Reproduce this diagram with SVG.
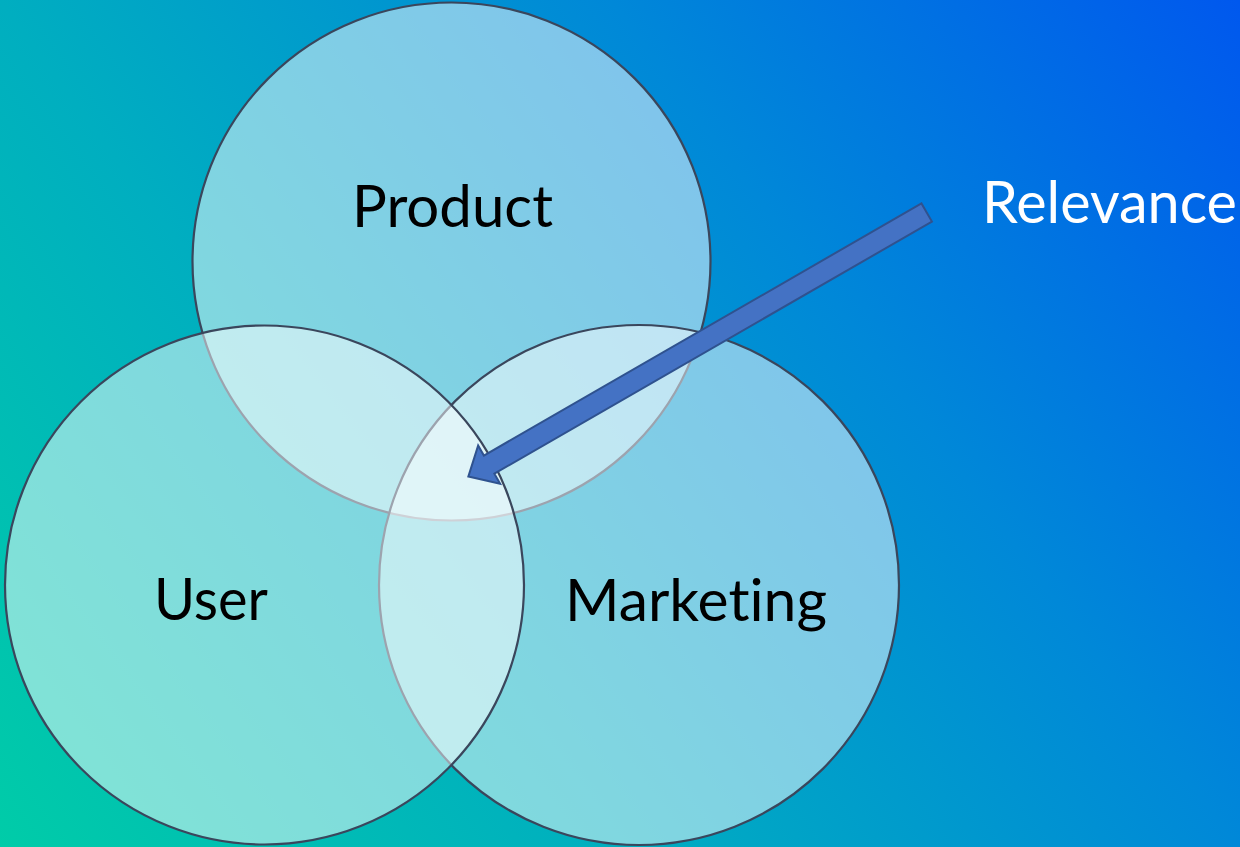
<svg xmlns="http://www.w3.org/2000/svg" width="1240" height="847" viewBox="0 0 1240 847">
  <defs>
    <linearGradient id="bg" gradientUnits="userSpaceOnUse" x1="0" y1="847" x2="1204.5" y2="-45.5">
      <stop offset="0" stop-color="#00CCA8"/>
      <stop offset="0.336" stop-color="#00AEC0"/>
      <stop offset="0.664" stop-color="#0088D8"/>
      <stop offset="1" stop-color="#0058EE"/>
    </linearGradient>
  </defs>
  <style>
    .c { fill: #ffffff; fill-opacity: 0.5; stroke: #3A465C; stroke-width: 2.2; }
    .lbl { font-family: Lato, "Open Sans", sans-serif; font-size: 58px; fill: #000000; font-variant-ligatures: none; }
    .w { fill: #ffffff; }
    .arrow { fill: #4472C4; stroke: #2F528F; stroke-width: 2; stroke-linejoin: miter; }
  </style>
  <rect x="0" y="0" width="1240" height="847" fill="url(#bg)"/>
  <g id="product">
    <circle class="c" cx="451.5" cy="261.5" r="259"/>
  </g>
  <g id="marketing">
    <circle class="c" cx="639" cy="585" r="260"/>
  </g>
  <g id="user">
    <circle class="c" cx="264.5" cy="585" r="259.5"/>
  </g>
  <g id="labels">
    <text class="lbl" x="352" y="227" textLength="201" lengthAdjust="spacingAndGlyphs">Product</text>
    <text class="lbl" x="154" y="620" textLength="114" lengthAdjust="spacingAndGlyphs">User</text>
    <text class="lbl" x="565" y="621" textLength="262" lengthAdjust="spacingAndGlyphs">Marketing</text>
  </g>
  <g id="relevance">
    <text class="lbl w" x="982" y="223" textLength="255" lengthAdjust="spacingAndGlyphs">Relevance</text>
  </g>
  <g id="connectors">
    <polygon class="arrow" transform="translate(926.7,212.5) rotate(150.05)" points="0,-10.5 505,-10.5 505,-22 529,0 505,22 505,10.5 0,10.5"/>
  </g>
</svg>
